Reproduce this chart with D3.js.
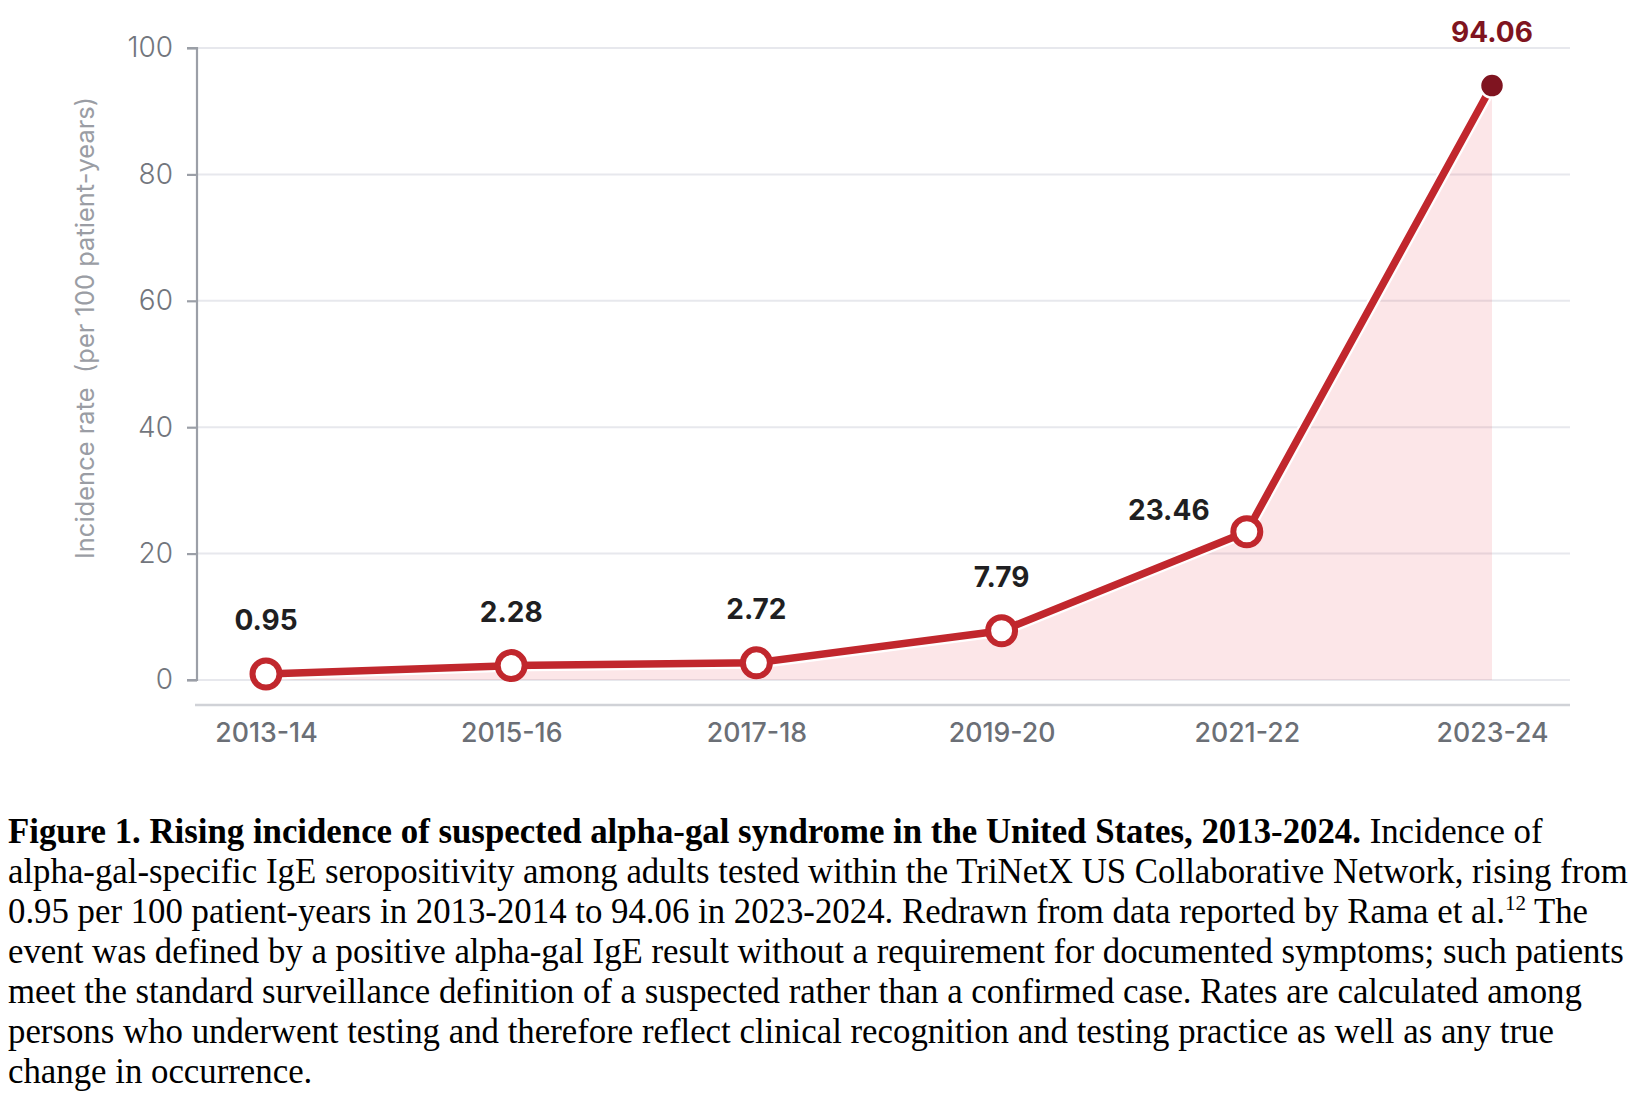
<!DOCTYPE html>
<html>
<head>
<meta charset="utf-8">
<script src="https://cdn.jsdelivr.net/npm/d3@7"></script>
<style>
  html, body { margin: 0; padding: 0; background: #fff; }
  body { width: 1636px; height: 1096px; position: relative; overflow: hidden; }
  #chart { position: absolute; left: 0; top: 0; }
  #caption {
    position: absolute; left: 8px; top: 812px;
    font-family: "Liberation Serif", "Times New Roman", serif;
    font-size: 34.8px; line-height: 40px; color: #000; white-space: nowrap;
  }
  #caption sup { font-size: 21px; line-height: 0; vertical-align: 13px; }
</style>
</head>
<body>
<svg id="chart" width="1636" height="790"></svg>
<div id="caption"></div>
<script>
// chart data
const periods = ["2013-14", "2015-16", "2017-18", "2019-20", "2021-22", "2023-24"];
const rates = [0.95, 2.28, 2.72, 7.79, 23.46, 94.06];
const yTicks = [0, 20, 40, 60, 80, 100];
const yLabel = "Incidence rate\u00a0\u00a0(per 100 patient-years)";

const captionLines = [
  "<b>Figure 1. Rising incidence of suspected alpha-gal syndrome in the United States, 2013-2024.</b> Incidence of",
  "alpha-gal-specific IgE seropositivity among adults tested within the TriNetX US Collaborative Network, rising from",
  "0.95 per 100 patient-years in 2013-2014 to 94.06 in 2023-2024. Redrawn from data reported by Rama et al.<sup>12</sup> The",
  "event was defined by a positive alpha-gal IgE result without a requirement for documented symptoms; such patients",
  "meet the standard surveillance definition of a suspected rather than a confirmed case. Rates are calculated among",
  "persons who underwent testing and therefore reflect clinical recognition and testing practice as well as any true",
  "change in occurrence."
];

const cfg = {
  plot: { left: 197, right: 1570, top: 48, bottom: 680 },
  xInner: { left: 266, right: 1492 },
  xAxisY: 705,
  red: "#c1272d",
  dark: "#7f1420",
  font: "Inter, 'Noto Sans', sans-serif"
};

const data = periods.map((p, i) => ({ period: p, rate: rates[i], i }));

function draw() {
  const svg = d3.select("#chart");

  const x = d3.scalePoint().domain(periods).range([cfg.xInner.left, cfg.xInner.right]);
  const y = d3.scaleLinear().domain([0, 100]).range([cfg.plot.bottom, cfg.plot.top]);

  // gridlines
  svg.append("g").attr("class", "grid")
    .selectAll("line").data(yTicks).join("line")
    .attr("x1", cfg.plot.left).attr("x2", cfg.plot.right)
    .attr("y1", d => y(d)).attr("y2", d => y(d))
    .attr("stroke", "#e7e8ed").attr("stroke-width", 2);

  // y axis
  const yAxis = d3.axisLeft(y).tickValues(yTicks).tickSize(10).tickPadding(14);
  const gy = svg.append("g").attr("transform", `translate(${cfg.plot.left},0)`).call(yAxis);
  gy.select(".domain").attr("stroke", "#9b9fa7").attr("stroke-width", 2.2)
    .attr("d", `M-10,${y(100)}H0V${y(0)}H-10`);
  gy.selectAll(".tick line").attr("stroke", "#9b9fa7").attr("stroke-width", 2.2);
  gy.selectAll(".tick text")
    .attr("fill", "#72767d").attr("font-family", cfg.font)
    .attr("font-size", 28).attr("font-weight", 300);

  // y label
  svg.append("text")
    .attr("transform", `translate(94,${(y(0) + y(100)) / 2 - 36}) rotate(-90)`)
    .attr("text-anchor", "middle")
    .attr("fill", "#9a9da4").attr("font-family", cfg.font)
    .attr("font-size", 25.5).attr("font-weight", 400)
    .text(yLabel);

  // x axis
  const xAxis = d3.axisBottom(x).tickSize(0).tickPadding(18);
  const gx = svg.append("g").attr("transform", `translate(0,${cfg.xAxisY})`).call(xAxis);
  gx.select(".domain").attr("stroke", "#d0d2d7").attr("stroke-width", 2.5)
    .attr("d", `M${cfg.plot.left - 2},0H${cfg.plot.right}`);
  gx.selectAll(".tick text")
    .attr("fill", "#6b6f76").attr("font-family", cfg.font)
    .attr("font-size", 26.7).attr("font-weight", 500);

  // area
  const area = d3.area().x(d => x(d.period)).y0(y(0)).y1(d => y(d.rate));
  svg.append("path").datum(data).attr("d", area)
    .attr("fill", "#e8404c").attr("fill-opacity", 0.13);

  // line with white casing
  const line = d3.line().x(d => x(d.period)).y(d => y(d.rate));
  svg.append("path").datum(data).attr("d", line)
    .attr("fill", "none").attr("stroke", "#fff").attr("stroke-width", 12)
    .attr("stroke-linejoin", "round");
  svg.append("path").datum(data).attr("d", line)
    .attr("fill", "none").attr("stroke", cfg.red).attr("stroke-width", 7.5)
    .attr("stroke-linejoin", "round");

  // markers
  const last = data.length - 1;
  svg.append("g").selectAll("circle").data(data).join("circle")
    .attr("cx", d => x(d.period)).attr("cy", d => y(d.rate))
    .attr("r", d => d.i === last ? 12 : 13.5)
    .attr("fill", d => d.i === last ? cfg.dark : "#fff")
    .attr("stroke", d => d.i === last ? "#fff" : cfg.red)
    .attr("stroke-width", d => d.i === last ? 2.5 : 6);

  // value labels
  svg.append("g").selectAll("text").data(data).join("text")
    .attr("x", d => x(d.period) + (d.i === 4 ? -78 : 0))
    .attr("y", d => y(d.rate) - (d.i === 4 ? 12 : 44))
    .attr("text-anchor", "middle")
    .attr("fill", d => d.i === last ? cfg.dark : "#1f1f22")
    .attr("font-family", cfg.font).attr("font-size", 28).attr("font-weight", 700)
    .text(d => d.rate.toFixed(2));

  document.getElementById("caption").innerHTML = captionLines.join("<br>");
}

document.addEventListener("DOMContentLoaded", draw);
</script>
</body>
</html>
